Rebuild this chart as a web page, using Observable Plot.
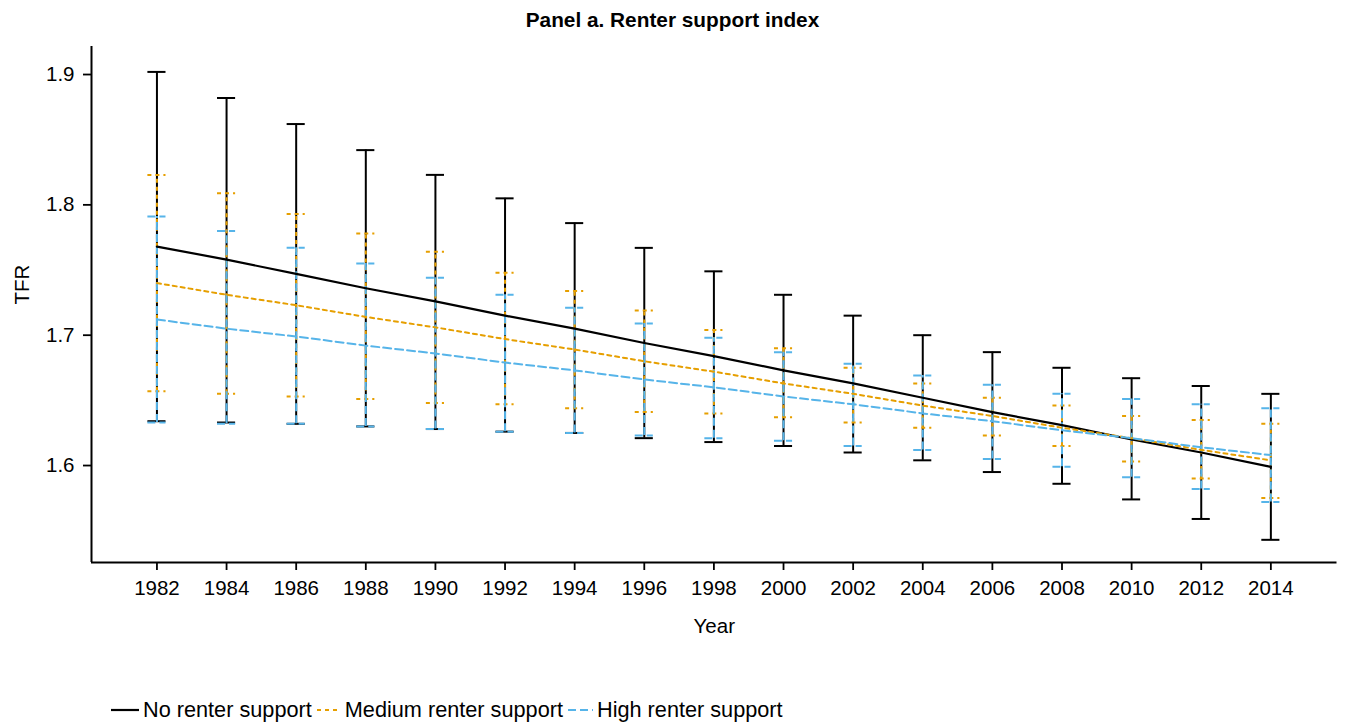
<!DOCTYPE html>
<html>
<head>
<meta charset="utf-8">
<script src="https://cdn.jsdelivr.net/npm/d3@7"></script>
<script src="https://cdn.jsdelivr.net/npm/@observablehq/plot@0.6"></script>
<style>
  html, body { margin: 0; padding: 0; background: #fff; }
  body { width: 1345px; height: 728px; position: relative; overflow: hidden;
         font-family: "Liberation Sans", Arial, sans-serif; color: #000; }
  #title { position: absolute; left: 0; top: 0; width: 1345px; height: 40px; line-height: 40px;
           text-align: center; font-weight: bold; font-size: 20.8px; }
  #chart { position: absolute; left: 0; top: 40px; }
  #legend { position: absolute; left: 111px; top: 696px; height: 28px; display: flex;
            align-items: center; font-size: 21.7px; white-space: nowrap; }
  #legend .key { display: block; margin-right: 4px; }
  #legend .item { display: flex; align-items: center; margin-right: 5px; }
  #chart g[aria-label$="tick"] * , #chart g[aria-label$="tick"] { stroke-width: 1.8px; }
  #chart .tick line { stroke-width: 1.8px; }
</style>
</head>
<body>
<div id="title">Panel a. Renter support index</div>
<div id="chart"></div>
<div id="legend"></div>
<script>
// Survey years (x axis)
const years = [1982, 1984, 1986, 1988, 1990, 1992, 1994, 1996, 1998, 2000, 2002, 2004, 2006, 2008, 2010, 2012, 2014];

// Predicted TFR and 95% interval bounds, no renter support
const noMid = [1.768, 1.758, 1.747, 1.736, 1.726, 1.715, 1.705, 1.694, 1.684, 1.673, 1.663, 1.652, 1.641, 1.631, 1.620, 1.610, 1.599];
const noLo  = [1.634, 1.633, 1.632, 1.630, 1.628, 1.626, 1.625, 1.621, 1.618, 1.615, 1.610, 1.604, 1.595, 1.586, 1.574, 1.559, 1.543];
const noHi  = [1.902, 1.882, 1.862, 1.842, 1.823, 1.805, 1.786, 1.767, 1.749, 1.731, 1.715, 1.700, 1.687, 1.675, 1.667, 1.661, 1.655];

// Medium renter support
const medMid = [1.740, 1.731, 1.723, 1.714, 1.706, 1.697, 1.689, 1.680, 1.672, 1.663, 1.655, 1.646, 1.638, 1.629, 1.621, 1.612, 1.604];
const medLo  = [1.657, 1.655, 1.653, 1.651, 1.648, 1.647, 1.644, 1.641, 1.640, 1.637, 1.633, 1.629, 1.623, 1.615, 1.603, 1.590, 1.575];
const medHi  = [1.823, 1.809, 1.793, 1.778, 1.764, 1.748, 1.734, 1.719, 1.704, 1.690, 1.675, 1.663, 1.652, 1.646, 1.638, 1.635, 1.632];

// High renter support
const highMid = [1.712, 1.705, 1.699, 1.692, 1.686, 1.679, 1.673, 1.666, 1.660, 1.653, 1.647, 1.640, 1.634, 1.627, 1.621, 1.614, 1.608];
const highLo  = [1.633, 1.632, 1.632, 1.630, 1.628, 1.626, 1.625, 1.623, 1.621, 1.619, 1.615, 1.612, 1.605, 1.599, 1.591, 1.582, 1.572];
const highHi  = [1.791, 1.780, 1.767, 1.755, 1.744, 1.731, 1.721, 1.709, 1.698, 1.687, 1.678, 1.669, 1.662, 1.655, 1.651, 1.647, 1.644];

const seriesNames = ["No renter support", "Medium renter support", "High renter support"];
const yTicks = [1.6, 1.7, 1.8, 1.9];

// Line styles per series
const seriesColors = ["#000000", "#E69F00", "#56B4E9"];
const seriesDash = [null, "4,4", "8,4"];
const seriesWidth = [2.2, 2, 2];

const seriesValues = [
  [noMid, noLo, noHi],
  [medMid, medLo, medHi],
  [highMid, highLo, highHi]
];

const rows = [];
seriesNames.forEach((name, s) => {
  const [mid, lo, hi] = seriesValues[s];
  years.forEach((year, i) => rows.push({series: name, s, year, mid: mid[i], lo: lo[i], hi: hi[i]}));
});

const xDomain = [1980.12, 2015.9];
const yDomain = [1.5256, 1.9215];
const capHalf = 0.26; // half-width of the error bar caps, in years

const marks = [
  Plot.ruleY([yDomain[0]], {stroke: "#000", strokeWidth: 2}),
  Plot.ruleX([xDomain[0]], {stroke: "#000", strokeWidth: 2})
];

// Error bars with caps, drawn series by series
seriesNames.forEach((name, s) => {
  const data = rows.filter(d => d.s === s);
  const style = {stroke: seriesColors[s], strokeWidth: 2, strokeDasharray: seriesDash[s] ?? undefined};
  marks.push(
    Plot.ruleX(data, {x: "year", y1: "lo", y2: "hi", ...style}),
    Plot.ruleY(data, {y: "hi", x1: d => d.year - capHalf, x2: d => d.year + capHalf, ...style}),
    Plot.ruleY(data, {y: "lo", x1: d => d.year - capHalf, x2: d => d.year + capHalf, ...style})
  );
});

// Predicted trend lines
seriesNames.forEach((name, s) => {
  const data = rows.filter(d => d.s === s);
  marks.push(Plot.line(data, {
    x: "year", y: "mid",
    stroke: seriesColors[s], strokeWidth: seriesWidth[s],
    strokeDasharray: seriesDash[s] ?? undefined
  }));
});

// Axis titles
marks.push(
  Plot.text(["Year"], {text: d => d, frameAnchor: "bottom", dy: 70, fontSize: 20.5}),
  Plot.text(["TFR"], {text: d => d, frameAnchor: "left", dx: -69, rotate: -90, fontSize: 20.5})
);

const chart = Plot.plot({
  width: 1345,
  height: 610,
  marginLeft: 91,
  marginRight: 8.5,
  marginTop: 6,
  marginBottom: 88,
  style: {
    fontFamily: "'Liberation Sans', Arial, sans-serif",
    fontSize: "20.5px",
    color: "#000",
    background: "#fff",
    overflow: "visible"
  },
  x: {
    domain: xDomain,
    ticks: years,
    tickFormat: d => String(d),
    tickSize: 8,
    tickPadding: 10,
    label: null
  },
  y: {
    domain: yDomain,
    ticks: yTicks,
    tickFormat: d => d.toFixed(1),
    tickSize: 8,
    tickPadding: 9,
    label: null
  },
  marks
});
document.getElementById("chart").appendChild(chart);

// Legend below the chart
const legend = document.getElementById("legend");
const keyWidths = [28, 24, 25];
seriesNames.forEach((name, s) => {
  const item = document.createElement("div");
  item.className = "item";
  const ns = "http://www.w3.org/2000/svg";
  const svg = document.createElementNS(ns, "svg");
  svg.setAttribute("class", "key");
  svg.setAttribute("width", keyWidths[s]);
  svg.setAttribute("height", 10);
  const line = document.createElementNS(ns, "line");
  line.setAttribute("x1", 0);
  line.setAttribute("x2", keyWidths[s]);
  line.setAttribute("y1", 5);
  line.setAttribute("y2", 5);
  line.setAttribute("stroke", seriesColors[s]);
  line.setAttribute("stroke-width", 2.2);
  if (seriesDash[s]) line.setAttribute("stroke-dasharray", seriesDash[s]);
  svg.appendChild(line);
  const label = document.createElement("span");
  label.textContent = name;
  item.appendChild(svg);
  item.appendChild(label);
  legend.appendChild(item);
});
</script>
</body>
</html>
